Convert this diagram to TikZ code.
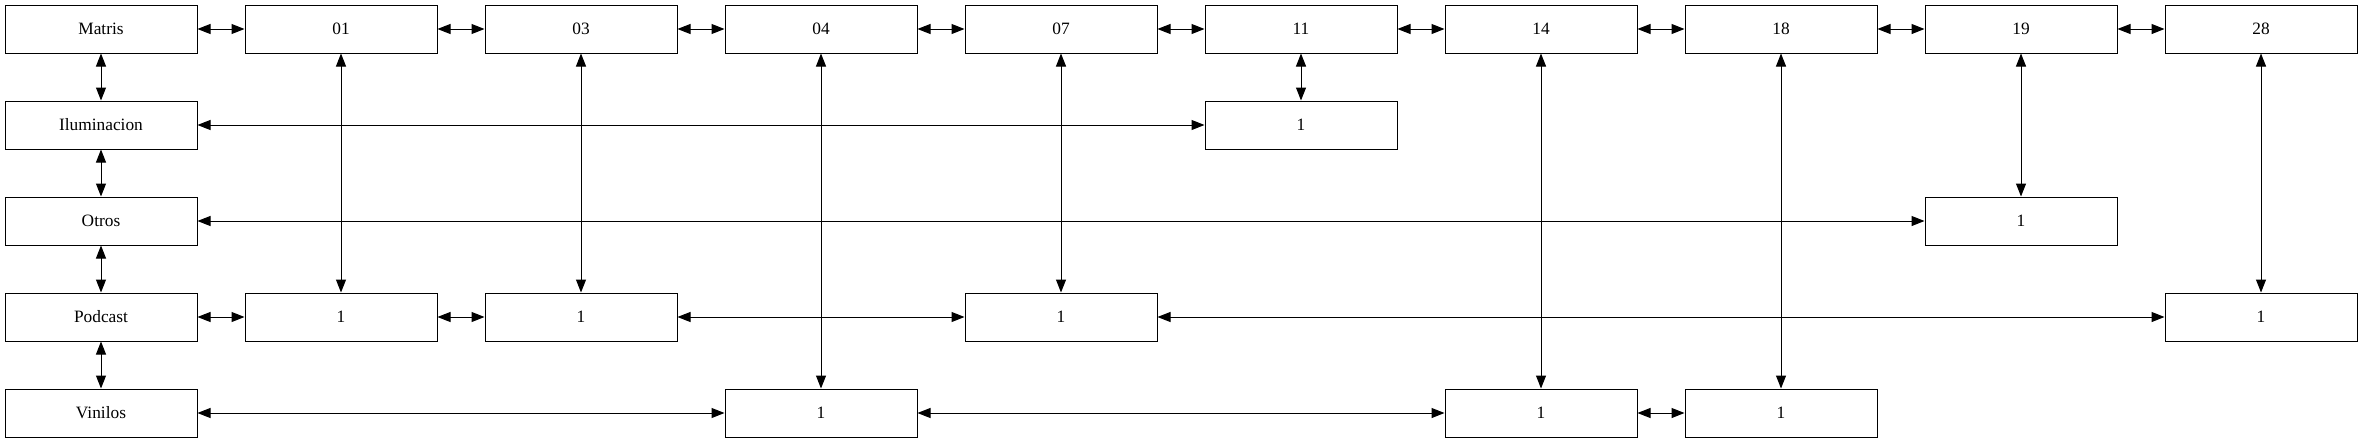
\documentclass[tikz,border=0pt]{standalone}
\usepackage{fontspec}
\setmainfont{Liberation Serif}
\usetikzlibrary{arrows.meta}
\begin{document}
\begin{tikzpicture}[x=0.75pt,y=-0.75pt,
  box/.style={draw,line width=0.75pt,minimum width=144pt,minimum height=36pt,inner sep=0pt,font=\fontsize{13}{15}\selectfont},
  link/.style={line width=0.75pt,{Triangle[length=9.75pt,width=7.5pt]}-{Triangle[length=9.75pt,width=7.5pt]}}]
\useasboundingbox (0,0) rectangle (2363,443);
% row 0
\node[box] (m) at (101,29) {Matris};
\node[box] (c01) at (341,29) {01};
\node[box] (c03) at (581,29) {03};
\node[box] (c04) at (821,29) {04};
\node[box] (c07) at (1061,29) {07};
\node[box] (c11) at (1301,29) {11};
\node[box] (c14) at (1541,29) {14};
\node[box] (c18) at (1781,29) {18};
\node[box] (c19) at (2021,29) {19};
\node[box] (c28) at (2261,29) {28};
% left column
\node[box] (il) at (101,125) {Iluminacion};
\node[box] (ot) at (101,221) {Otros};
\node[box] (po) at (101,317) {Podcast};
\node[box] (vi) at (101,413) {Vinilos};
% value nodes
\node[box] (il11) at (1301,125) {1};
\node[box] (ot19) at (2021,221) {1};
\node[box] (po01) at (341,317) {1};
\node[box] (po03) at (581,317) {1};
\node[box] (po07) at (1061,317) {1};
\node[box] (po28) at (2261,317) {1};
\node[box] (vi04) at (821,413) {1};
\node[box] (vi14) at (1541,413) {1};
\node[box] (vi18) at (1781,413) {1};
% top row links
\draw[link] (m) -- (c01);
\draw[link] (c01) -- (c03);
\draw[link] (c03) -- (c04);
\draw[link] (c04) -- (c07);
\draw[link] (c07) -- (c11);
\draw[link] (c11) -- (c14);
\draw[link] (c14) -- (c18);
\draw[link] (c18) -- (c19);
\draw[link] (c19) -- (c28);
% left column links
\draw[link] (m) -- (il);
\draw[link] (il) -- (ot);
\draw[link] (ot) -- (po);
\draw[link] (po) -- (vi);
% horizontal row links
\draw[link] (il) -- (il11);
\draw[link] (ot) -- (ot19);
\draw[link] (po) -- (po01);
\draw[link] (po01) -- (po03);
\draw[link] (po03) -- (po07);
\draw[link] (po07) -- (po28);
\draw[link] (vi) -- (vi04);
\draw[link] (vi04) -- (vi14);
\draw[link] (vi14) -- (vi18);
% vertical links
\draw[link] (c11) -- (il11);
\draw[link] (c19) -- (ot19);
\draw[link] (c01) -- (po01);
\draw[link] (c03) -- (po03);
\draw[link] (c07) -- (po07);
\draw[link] (c28) -- (po28);
\draw[link] (c04) -- (vi04);
\draw[link] (c14) -- (vi14);
\draw[link] (c18) -- (vi18);
\end{tikzpicture}
\end{document}
